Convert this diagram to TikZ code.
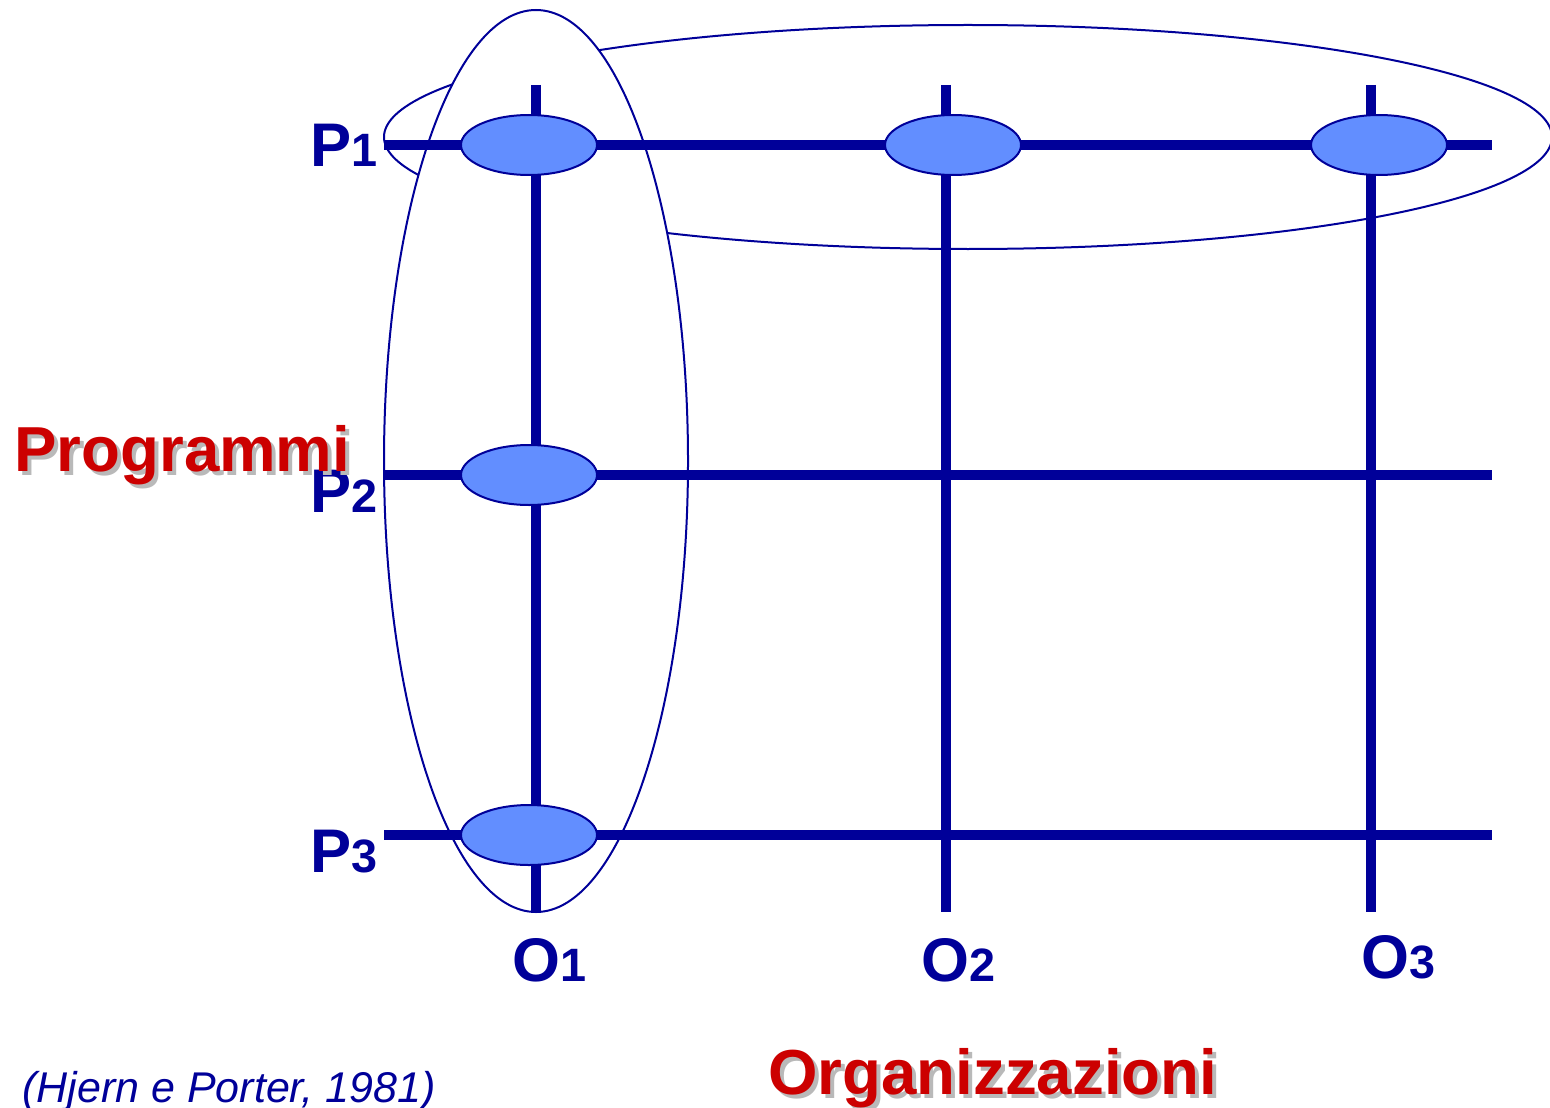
\documentclass[tikz,border=0pt]{standalone}
\usepackage{fontspec}
\setmainfont{Liberation Sans}
\usetikzlibrary{shapes.geometric}
\definecolor{dblue}{RGB}{0,0,153}
\definecolor{nfill}{RGB}{98,142,255}
\definecolor{dred}{RGB}{204,0,0}
\definecolor{shgray}{RGB}{185,185,185}
\tikzset{
  gridline/.style={draw=dblue,line width=5.3pt},
  ring/.style={draw=dblue,line width=1pt},
  hub/.style={ellipse,draw=dblue,fill=nfill,line width=1pt,minimum width=68pt,minimum height=30pt,inner sep=0pt},
  lab/.style={anchor=base west,inner sep=0pt,text=dblue,font=\bfseries\fontsize{30.8}{32}\selectfont},
  title/.style={anchor=base west,inner sep=0pt,text=dred,font=\bfseries\fontsize{31.8}{32}\selectfont},
  shadowtxt/.style={anchor=base west,inner sep=0pt,text=shgray,font=\bfseries\fontsize{31.8}{32}\selectfont},
}
\newcommand{\subd}[1]{{\fontsize{23.4}{25}\selectfont #1}}
\begin{document}
\begin{tikzpicture}[x=0.5pt,y=-0.5pt]
\useasboundingbox (0,0) rectangle (1550,1107);
% big rings
\draw[ring] (968,137) ellipse [x radius=584, y radius=112];
\draw[ring,fill=white] (536,461) ellipse [x radius=152, y radius=451];
% grid coordinates
\coordinate (o1t) at (536,85);  \coordinate (o1b) at (536,912);
\coordinate (o2t) at (946,85);  \coordinate (o2b) at (946,912);
\coordinate (o3t) at (1371,85); \coordinate (o3b) at (1371,912);
\coordinate (p1l) at (384,145); \coordinate (p1r) at (1492,145);
\coordinate (p2l) at (384,475); \coordinate (p2r) at (1492,475);
\coordinate (p3l) at (384,835); \coordinate (p3r) at (1492,835);
\draw[gridline] (o1t) -- (o1b);
\draw[gridline] (o2t) -- (o2b);
\draw[gridline] (o3t) -- (o3b);
\draw[gridline] (p1l) -- (p1r);
\draw[gridline] (p2l) -- (p2r);
\draw[gridline] (p3l) -- (p3r);
% hubs
\node[hub] (n11) at (529,145) {};
\node[hub] (n21) at (953,145) {};
\node[hub] (n31) at (1379,145) {};
\node[hub] (n12) at (529,475) {};
\node[hub] (n13) at (529,835) {};
% labels
\node[lab] (lp1) at (310,167) {P\subd{1}};
\node[lab] (lp2) at (310,512) {P\subd{2}};
\node[lab] (lp3) at (310,872) {P\subd{3}};
\node[lab] (lo1) at (512,981) {O\subd{1}};
\node[lab] (lo2) at (921,981) {O\subd{2}};
\node[lab] (lo3) at (1361,978) {O\subd{3}};
% titles with shadow
\node[shadowtxt] at (18,475) {Programmi};
\node[title] (tprog) at (14,471) {Programmi};
\node[shadowtxt] at (772,1098) {Organizzazioni};
\node[title] (torg) at (768,1094) {Organizzazioni};
% citation
\node[anchor=base west,inner sep=0pt,text=dblue,font=\itshape\fontsize{21.5}{22}\selectfont] (cit) at (22,1102) {(Hjern e Porter, 1981)};
\end{tikzpicture}
\end{document}
